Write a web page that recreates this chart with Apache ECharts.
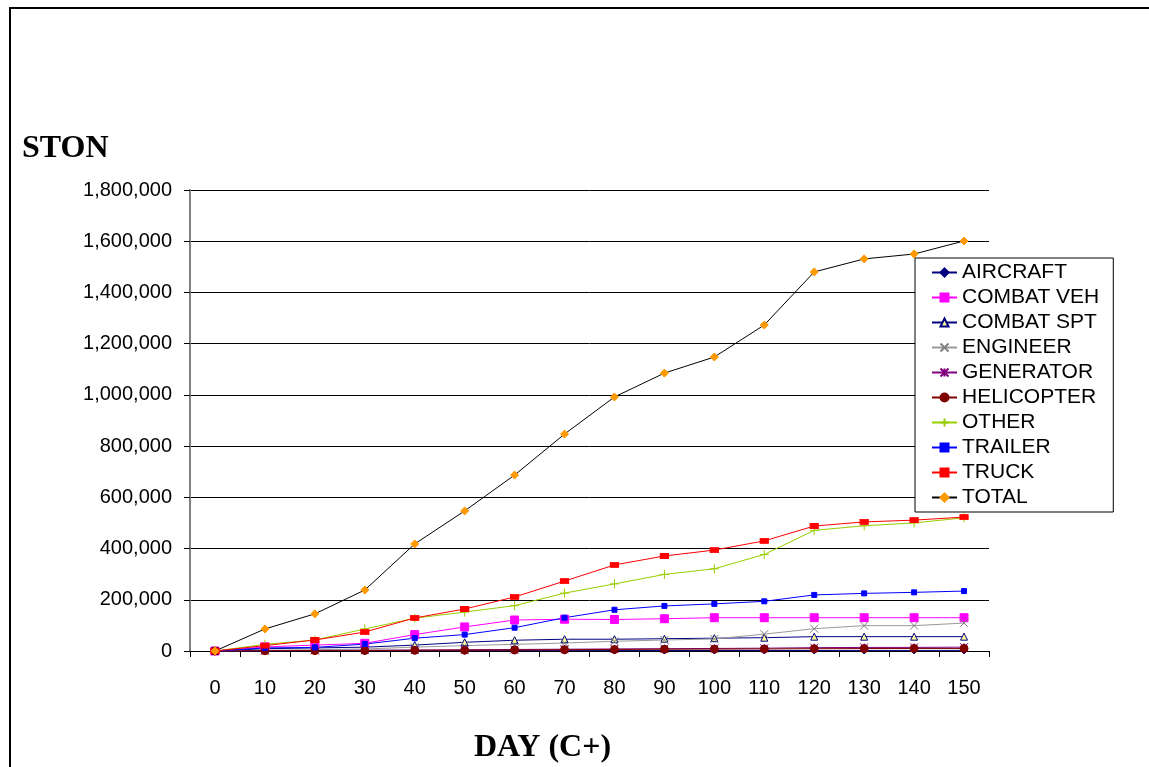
<!DOCTYPE html>
<html>
<head>
<meta charset="utf-8">
<script src="https://cdn.jsdelivr.net/npm/echarts@6/dist/echarts.min.js"></script>
<style>
  html, body { margin: 0; padding: 0; background: #fff; }
  #chart { width: 1149px; height: 767px; }
</style>
</head>
<body>
<div id="chart"></div>
<script>
const days = ['0', '10', '20', '30', '40', '50', '60', '70', '80', '90', '100', '110', '120', '130', '140', '150'];
const yTicks = [0, 200000, 400000, 600000, 800000, 1000000, 1200000, 1400000, 1600000, 1800000];

const aircraft   = [0, 500, 800, 1000, 1200, 1400, 1500, 1600, 1700, 1800, 1900, 2000, 2100, 2200, 2300, 2400];
const combatVeh  = [0, 16000, 23000, 30000, 64000, 94000, 121000, 124000, 123000, 126000, 130000, 130000, 130000, 130000, 130000, 130000];
const combatSpt  = [0, 9000, 12000, 15000, 23000, 34000, 42000, 46000, 46000, 48000, 50000, 52000, 56000, 56000, 56000, 56000];
const engineer   = [0, 3000, 5000, 8000, 15000, 21000, 26000, 31000, 38000, 43000, 47000, 66000, 87000, 99000, 99000, 109000];
const generator  = [0, 1000, 2000, 3000, 4000, 5000, 6000, 7000, 8000, 9000, 10000, 11000, 13000, 14000, 14000, 15000];
const helicopter = [0, 1000, 1500, 2000, 2500, 3000, 4000, 5000, 6000, 7000, 7500, 8000, 9000, 9500, 10000, 10000];
const other      = [0, 26000, 43000, 86000, 128000, 152000, 177000, 226000, 262000, 299000, 321000, 377000, 471000, 489000, 500000, 520000];
const trailer    = [0, 12000, 14000, 27000, 50000, 64000, 91000, 130000, 161000, 176000, 184000, 194000, 219000, 225000, 229000, 234000];
const truck      = [0, 21000, 43000, 74000, 129000, 164000, 211000, 273000, 336000, 371000, 394000, 430000, 488000, 504000, 511000, 523000];
const total      = [0, 86000, 145000, 238000, 418000, 547000, 687000, 847000, 992000, 1085000, 1148000, 1273000, 1480000, 1531000, 1550000, 1601000];

const crossPath = 'path://M0,0 L10,10 M10,0 L0,10';
const plusPath = 'path://M5,0 L5,10 M0,5 L10,5';
const starPath = 'path://M0,0 L10,10 M10,0 L0,10 M5,0 L5,10';

function mk(name, data, lineColor, symbol, size, markFill, markBorder) {
  return {
    name: name,
    type: 'line',
    data: data,
    symbol: symbol,
    symbolSize: size,
    showAllSymbol: true,
    lineStyle: { color: lineColor, width: 1 },
    itemStyle: {
      color: markFill,
      borderColor: markBorder || markFill,
      borderWidth: 1
    },
    emphasis: { disabled: true },
    animation: false
  };
}

const chart = echarts.init(document.getElementById('chart'));
const option = {
  backgroundColor: '#fff',
  animation: false,
  grid: { left: 190, right: 160, top: 190, bottom: 116 },
  graphic: [
    {
      type: 'rect',
      shape: { x: 10, y: 8, width: 1200, height: 820 },
      style: { fill: 'none', stroke: '#000', lineWidth: 2 },
      silent: true
    },
    {
      type: 'text',
      left: 22, top: 133,
      style: { text: 'STON', font: 'bold 32px "Liberation Serif", "Times New Roman", serif', fill: '#000' }
    },
    {
      type: 'text',
      left: 474, top: 732,
      style: { text: 'DAY (C+)', font: 'bold 32px "Liberation Serif", "Times New Roman", serif', fill: '#000' }
    }
  ],
  legend: {
    orient: 'vertical',
    left: 915,
    top: 258,
    padding: [4, 14, 4, 16],
    itemGap: 4,
    itemWidth: 25,
    itemHeight: 10,
    backgroundColor: '#fff',
    borderColor: '#000',
    borderWidth: 1,
    textStyle: { fontFamily: '"Liberation Sans", Arial, sans-serif', fontSize: 21, color: '#000', lineHeight: 21 },
    data: ['AIRCRAFT', 'COMBAT VEH', 'COMBAT SPT', 'ENGINEER', 'GENERATOR', 'HELICOPTER', 'OTHER', 'TRAILER', 'TRUCK', 'TOTAL']
  },
  xAxis: {
    type: 'category',
    data: days,
    boundaryGap: true,
    axisLine: { lineStyle: { color: '#000', width: 1 } },
    axisTick: { show: true, length: 6, lineStyle: { color: '#000' } },
    axisLabel: { color: '#000', fontFamily: '"Liberation Sans", Arial, sans-serif', fontSize: 20, margin: 27 },
    splitLine: { show: false }
  },
  yAxis: {
    type: 'value',
    min: yTicks[0],
    max: yTicks[yTicks.length - 1],
    interval: 200000,
    axisLine: { show: true, lineStyle: { color: '#808080', width: 2 } },
    axisTick: { show: true, length: 6, lineStyle: { color: '#000' } },
    axisLabel: {
      color: '#000',
      fontFamily: '"Liberation Sans", Arial, sans-serif',
      fontSize: 20,
      margin: 18,
      formatter: v => v.toLocaleString('en-US')
    },
    splitLine: { show: true, lineStyle: { color: '#000', width: 1 } }
  },
  series: [
    mk('AIRCRAFT', aircraft, '#000080', 'diamond', 7, '#000080'),
    mk('COMBAT VEH', combatVeh, '#FF00FF', 'rect', 8, '#FF00FF'),
    mk('COMBAT SPT', combatSpt, '#000080', 'triangle', 7, '#FFFF99', '#000080'),
    mk('ENGINEER', engineer, '#999999', crossPath, 8, 'none', '#808080'),
    mk('GENERATOR', generator, '#800080', starPath, 8, 'none', '#800080'),
    mk('HELICOPTER', helicopter, '#800000', 'circle', 8, '#800000'),
    mk('OTHER', other, '#99CC00', plusPath, 9, 'none', '#99CC00'),
    mk('TRAILER', trailer, '#0000FF', 'rect', 5, '#0000FF'),
    mk('TRUCK', truck, '#FF0000', 'rect', [8, 5], '#FF0000'),
    mk('TOTAL', total, '#000000', 'diamond', 8, '#FF9900')
  ]
};
chart.setOption(option);
</script>
</body>
</html>
